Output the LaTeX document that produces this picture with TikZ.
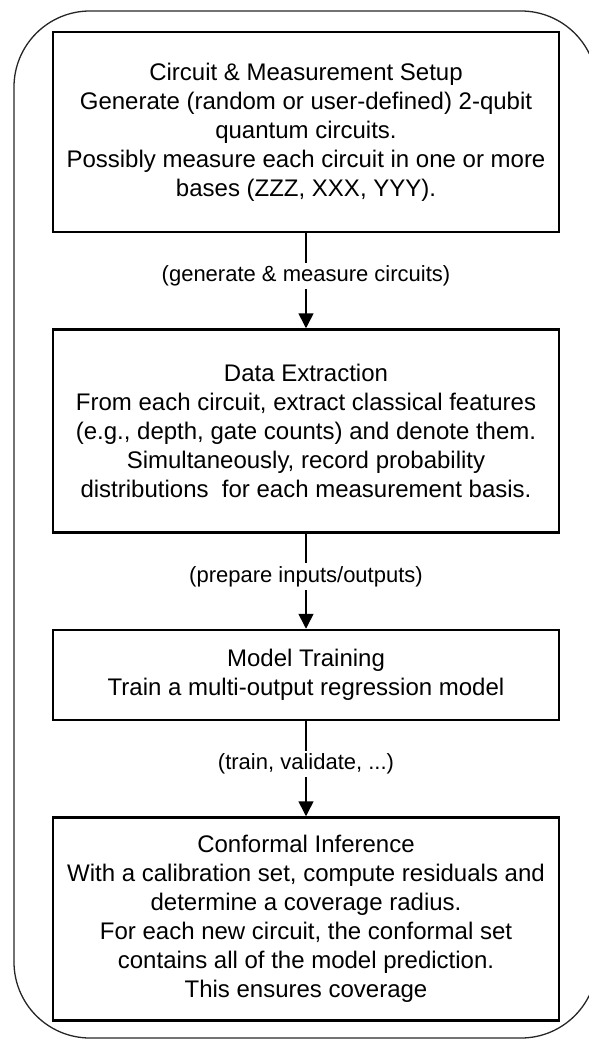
\documentclass[tikz,border=0pt]{standalone}
\usepackage{fontspec}
\setmainfont{Liberation Sans}
\usepackage{tikz}
\usetikzlibrary{arrows.meta}
\usetikzlibrary{positioning}
\tikzset{
    stage/.style={
           rectangle,
           draw=black, line width=2.5pt,
           minimum width=506pt,
           inner sep=4pt,
           align=center,
           font=\fontsize{24}{29}\selectfont,
           },
     edgetext/.style={
           fill=white,
           inner sep=3pt,
           pos=0.45,
           font=\fontsize{22}{26}\selectfont,
           },
     flow/.style={
           line width=1.6pt,
           -{Triangle[length=15pt,width=15pt]},
           },
}

\begin{document}
\begin{tikzpicture}[node distance=95pt]
	\useasboundingbox (0,0) rectangle (589pt,-1039pt);
	% outer frame
	\draw[black!85, line width=1.3pt, rounded corners=76pt]
		(14pt,-11pt) rectangle (597pt,-1038pt);

	\node[stage, minimum height=200pt] (setup) at (306pt,-132pt) {
		Circuit \& Measurement Setup\\
		Generate (random or user-defined) 2-qubit\\
		quantum circuits.\\
		Possibly measure each circuit in one or more\\
		bases (ZZZ, XXX, YYY).
	};

	\node[stage, below=of setup, minimum height=203pt] (extract) {
		Data Extraction\\
		From each circuit, extract classical features\\
		(e.g., depth, gate counts) and denote them.\\
		Simultaneously, record probability\\
		distributions~ for each measurement basis.
	};

	\node[stage, below=of extract, minimum height=90pt] (train) {
		Model Training\\
		Train a multi-output regression model
	};

	\node[stage, below=of train, minimum height=203pt] (conformal) {
		Conformal Inference\\
		With a calibration set, compute residuals and\\
		determine a coverage radius.\\
		For each new circuit, the conformal set\\
		contains all of the model prediction.\\
		This ensures coverage
	};

	\path[flow] (setup) edge node[edgetext] {(generate \& measure circuits)} (extract);
	\path[flow] (extract) edge node[edgetext] {(prepare inputs/outputs)} (train);
	\path[flow] (train) edge node[edgetext] {(train, validate, ...)} (conformal);

\end{tikzpicture}
\end{document}
